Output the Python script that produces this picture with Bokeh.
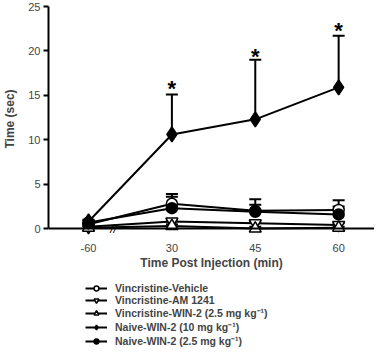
from bokeh.plotting import figure
from bokeh.layouts import column
from bokeh.models import (Range1d, FixedTicker, Span, Whisker, ColumnDataSource,
                          Legend, LegendItem, TeeHead)
from bokeh.core.properties import value
from bokeh.embed import file_html
from bokeh.resources import INLINE

# ---- data ----
x_labels = ["-60", "30", "45", "60"]
x_idx = [0, 1, 2, 3]

veh = [0.5, 2.8, 2.0, 2.1]
veh_up = [0.6, 3.9, 3.3, 3.2]

am = [0.2, 0.8, 0.6, 0.4]
am_up = [0.3, 1.0, 0.8, 0.6]

win_v = [0.1, 0.3, 0.0, 0.1]
win_v_up = [0.2, 0.5, 0.2, 0.2]

naive10 = [0.8, 10.6, 12.3, 15.9]
naive10_up = [1.0, 15.1, 19.0, 21.7]

naive25 = [0.7, 2.3, 1.9, 1.6]
naive25_up = [0.9, 3.6, 2.7, 2.5]

star_x = [1, 2, 3]
star_y = [15.8, 19.4, 22.3]

labels = ["Vincristine-Vehicle", "Vincristine-AM 1241",
          "Vincristine-WIN-2 (2.5 mg kg\u207b\u00b9)",
          "Naive-WIN-2 (10 mg kg\u207b\u00b9)",
          "Naive-WIN-2 (2.5 mg kg\u207b\u00b9)"]

FONT = "Liberation Sans"

p = figure(frame_width=326, frame_height=237, output_backend="svg",
           toolbar_location=None, x_range=Range1d(-0.48, 3.43),
           y_range=Range1d(-1.0, 25.68),
           min_border_left=42, min_border_right=0, min_border_top=0,
           min_border_bottom=44)
p.outline_line_color = None
p.grid.visible = False
p.background_fill_color = "white"

# axes
p.yaxis.ticker = FixedTicker(ticks=[0, 5, 10, 15, 20, 25])
p.yaxis.bounds = (0, 25)
p.yaxis.axis_line_width = 2
p.yaxis.major_tick_line_width = 2
p.yaxis.major_tick_out = 5
p.yaxis.major_tick_in = 0
p.yaxis.minor_tick_line_color = None
p.yaxis.major_label_text_font = FONT
p.yaxis.major_label_text_font_size = "11px"
p.yaxis.major_label_text_color = "#444444"
p.yaxis.major_label_standoff = 3
p.yaxis.axis_label = "Time (sec)"
p.yaxis.axis_label_text_font = FONT
p.yaxis.axis_label_text_font_style = "bold"
p.yaxis.axis_label_text_font_size = "12px"
p.yaxis.axis_label_standoff = 8

p.xaxis.ticker = FixedTicker(ticks=x_idx)
p.xaxis.major_label_overrides = {i: l for i, l in zip(x_idx, x_labels)}
p.xaxis.axis_line_color = None
p.xaxis.major_tick_line_color = None
p.xaxis.minor_tick_line_color = None
p.xaxis.major_label_text_font = FONT
p.xaxis.major_label_text_font_size = "11px"
p.xaxis.major_label_text_color = "#444444"
p.xaxis.major_label_standoff = 0
p.xaxis.axis_label = "Time Post Injection (min)"
p.xaxis.axis_label_text_font = FONT
p.xaxis.axis_label_text_font_style = "bold"
p.xaxis.axis_label_text_font_size = "12px"
p.xaxis.axis_label_standoff = 1

# x axis line at y = 0
p.add_layout(Span(location=0, dimension="width", line_color="black", line_width=2))

# axis break
p.text(x=[0.3], y=[0], text=["//"], text_font=value(FONT), text_font_size="12px",
       text_font_style="italic", text_align="center", text_baseline="middle",
       text_color="black")

series = [
    (veh, veh_up, "circle", "white", 11),
    (am, am_up, "inverted_triangle", "white", 12),
    (win_v, win_v_up, "triangle", "white", 12),
    (naive10, naive10_up, "diamond", "black", 15),
    (naive25, naive25_up, "circle", "black", 11),
]

# legend panel (its ranges keep the copies of the data out of view)
p2 = figure(width=368, height=82, output_backend="svg", toolbar_location=None,
            x_axis_type=None, y_axis_type=None, x_range=Range1d(100, 101),
            y_range=Range1d(100, 101), min_border=0)
p2.outline_line_color = None
p2.grid.visible = False

items = []
for (ys, ups, mk, fill, sz), lab in zip(series, labels):
    src = ColumnDataSource(dict(x=x_idx, y=ys, up=ups))
    w = Whisker(source=src, base="x", lower="y", upper="up", dimension="height",
                line_color="black", line_width=2,
                upper_head=TeeHead(size=12, line_width=2, line_color="black"),
                lower_head=None)
    p.add_layout(w)
    p.line("x", "y", source=src, line_color="black", line_width=2)
    p.scatter("x", "y", source=src, marker=mk, size=sz, fill_color=fill,
              line_color="black", line_width=1.5)
    lr = p2.line("x", "y", source=src, line_color="black", line_width=2)
    sr = p2.scatter("x", "y", source=src, marker=mk, size=sz, fill_color=fill,
                    line_color="black", line_width=1.5)
    items.append(LegendItem(label=lab, renderers=[lr, sr]))

# significance stars
p.text(x=star_x, y=star_y, text=["*"] * len(star_x), text_font=value(FONT),
       text_font_size="22px", text_font_style="bold", text_align="center",
       text_baseline="middle", text_color="black")

legend = Legend(items=items, location=(37, 15), orientation="vertical",
                border_line_color=None, background_fill_alpha=0,
                label_text_font=FONT, label_text_font_style="bold",
                label_text_font_size="10.5px", label_height=12, glyph_height=12,
                glyph_width=22, spacing=0, padding=0, margin=0, label_standoff=8)
p2.add_layout(legend)

layout = column(p, p2, spacing=0)
open("out.html", "w").write(file_html(layout, INLINE))
